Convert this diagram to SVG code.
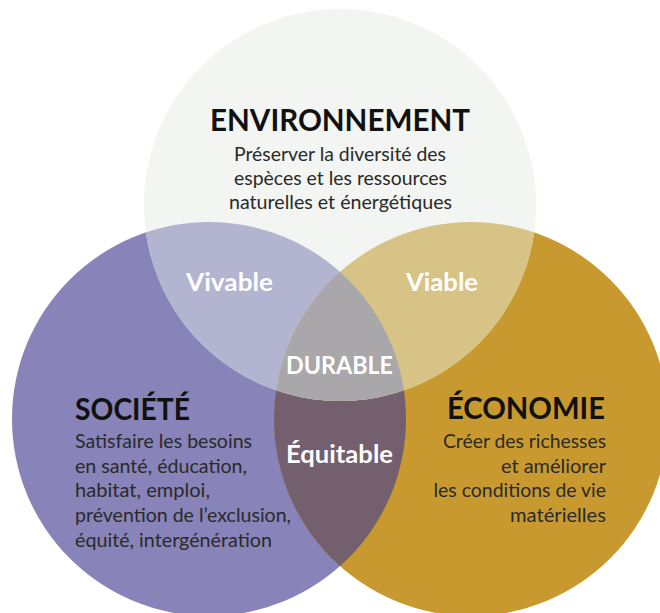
<svg xmlns="http://www.w3.org/2000/svg" xmlns:xlink="http://www.w3.org/1999/xlink" width="660" height="613" viewBox="0 0 660 613">
<style>
.t{font-family:Lato,"Liberation Sans",sans-serif;font-weight:700;font-size:30.5px;fill:#111111}
.d{font-family:Lato,"Liberation Sans",sans-serif;font-weight:400;font-size:19px;fill:#2a2a2a}
.l{font-family:Lato,"Liberation Sans",sans-serif;font-weight:700;font-size:25px;fill:#ffffff}
</style>
<defs>
<clipPath id="clipT"><circle cx="340" cy="205" r="196"/></clipPath>
<clipPath id="clipL"><circle cx="209" cy="419" r="197"/></clipPath>
<clipPath id="clipR"><circle cx="471" cy="419" r="197"/></clipPath>
</defs>
<rect width="660" height="613" fill="#ffffff"/>
<g id="societe">
<circle cx="209" cy="419" r="197" fill="#8883B8"/>
<text class="t" x="75" y="420" textLength="115" lengthAdjust="spacingAndGlyphs">SOCIÉTÉ</text>
<text class="d" x="75" y="448" textLength="177" lengthAdjust="spacingAndGlyphs">Satisfaire les besoins</text>
<text class="d" x="75" y="472.5" textLength="172" lengthAdjust="spacingAndGlyphs">en santé, éducation,</text>
<text class="d" x="75" y="497" textLength="135" lengthAdjust="spacingAndGlyphs">habitat, emploi,</text>
<text class="d" x="75" y="522" textLength="216" lengthAdjust="spacingAndGlyphs">prévention de l’exclusion,</text>
<text class="d" x="75" y="547" textLength="197" lengthAdjust="spacingAndGlyphs">équité, intergénération</text>
</g>
<g id="economie">
<circle cx="471" cy="419" r="197" fill="#C8992F"/>
<text class="t" x="447" y="419" textLength="158" lengthAdjust="spacingAndGlyphs">ÉCONOMIE</text>
<text class="d" x="443" y="448" textLength="163" lengthAdjust="spacingAndGlyphs">Créer des richesses</text>
<text class="d" x="501" y="472.5" textLength="105" lengthAdjust="spacingAndGlyphs">et améliorer</text>
<text class="d" x="433.5" y="497" textLength="172.5" lengthAdjust="spacingAndGlyphs">les conditions de vie</text>
<text class="d" x="510" y="522" textLength="96" lengthAdjust="spacingAndGlyphs">matérielles</text>
</g>
<g id="equitable">
<circle cx="471" cy="419" r="197" fill="#735F6E" clip-path="url(#clipL)"/>
<text class="l" x="286" y="463" textLength="107" lengthAdjust="spacingAndGlyphs">Équitable</text>
</g>
<g id="environnement">
<circle cx="340" cy="205" r="196" fill="#F2F5F1"/>
<text class="t" x="210" y="131" textLength="260" lengthAdjust="spacingAndGlyphs">ENVIRONNEMENT</text>
<text class="d" x="234" y="161" textLength="212" lengthAdjust="spacingAndGlyphs">Préserver la diversité des</text>
<text class="d" x="234" y="185" textLength="213" lengthAdjust="spacingAndGlyphs">espèces et les ressources</text>
<text class="d" x="229" y="209" textLength="223" lengthAdjust="spacingAndGlyphs">naturelles et énergétiques</text>
</g>
<g id="vivable">
<circle cx="209" cy="419" r="197" fill="#B3B4CF" clip-path="url(#clipT)"/>
<text class="l" x="186" y="291" textLength="87" lengthAdjust="spacingAndGlyphs">Vivable</text>
</g>
<g id="viable">
<circle cx="471" cy="419" r="197" fill="#D8C387" clip-path="url(#clipT)"/>
<text class="l" x="406" y="291" textLength="72" lengthAdjust="spacingAndGlyphs">Viable</text>
</g>
<g id="durable">
<g clip-path="url(#clipT)"><circle cx="471" cy="419" r="197" fill="#AAA7AB" clip-path="url(#clipL)"/></g>
<text class="l" x="286" y="374" textLength="107" lengthAdjust="spacingAndGlyphs">DURABLE</text>
</g>
</svg>
